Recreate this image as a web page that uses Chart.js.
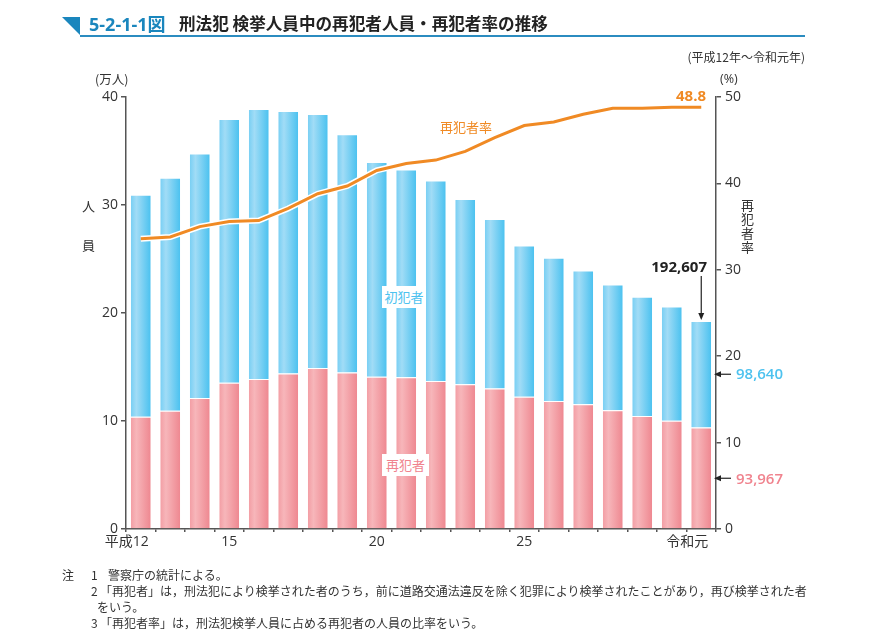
<!DOCTYPE html>
<html lang="ja">
<head>
<meta charset="utf-8">
<script src="https://cdn.jsdelivr.net/npm/chart.js@4/dist/chart.umd.min.js"></script>
<style>
  body { margin: 0; background: #fff; font-family: "Open Sans", "Noto Sans CJK JP", sans-serif; color: #333; }
  #wrap { position: relative; width: 875px; height: 640px; overflow: hidden; }
  #myChart { position: absolute; left: 0; top: 0; }
  .t { position: absolute; white-space: nowrap; line-height: 1; }
  .tri { position: absolute; left: 62px; top: 17px; width: 18px; height: 18px; background: #1a86bd; clip-path: polygon(0 0, 100% 0, 100% 100%); }
  .rule { position: absolute; left: 80px; top: 35px; width: 725px; height: 1.5px; background: #2b8cc0; }
  .box { position: absolute; background: #fff; text-align: center; font-size: 13px; line-height: 22px; font-family: "Noto Sans CJK JP", sans-serif; }
  .note { position: absolute; font-size: 12px; font-family: "Noto Sans CJK JP", sans-serif; color: #333; white-space: nowrap; line-height: 1; }
</style>
</head>
<body>
<div id="wrap">
  <canvas id="myChart" width="875" height="640"></canvas>

  <div class="tri"></div>
  <div class="t" style="left:89px;top:14px;font-size:18px;font-weight:bold;color:#1a86bd;">5-2-1-1<span style="font-family:'Noto Sans CJK JP';">図</span></div>
  <div class="t" style="left:179px;top:15px;font-size:16.6px;font-weight:bold;color:#222;font-family:'Noto Sans CJK JP';">刑法犯 検挙人員中の再犯者人員・再犯者率の推移</div>
  <div class="rule"></div>
  <div class="t" style="right:70px;top:51px;font-size:12px;font-family:'Noto Sans CJK JP';">(平成12年～令和元年)</div>

  <div class="t" style="left:95px;top:73px;font-size:12.5px;font-family:'Noto Sans CJK JP';">(万人)</div>
  <div class="t" style="left:82px;top:199px;font-size:13px;font-family:'Noto Sans CJK JP';">人</div>
  <div class="t" style="left:82px;top:238px;font-size:13px;font-family:'Noto Sans CJK JP';">員</div>
  <div class="t" style="left:720px;top:73px;font-size:12.5px;">(%)</div>
  <div class="t" style="left:741px;top:199px;font-size:13px;font-family:'Noto Sans CJK JP';writing-mode:vertical-rl;letter-spacing:1px;">再犯者率</div>

  <div class="t" style="right:169px;top:88px;font-size:15px;font-weight:bold;color:#f08a24;">48.8</div>
  <div class="t" style="left:440px;top:120px;font-size:13px;color:#f08a24;font-family:'Noto Sans CJK JP';">再犯者率</div>
  <div class="box" style="left:382px;top:286px;width:44px;height:22px;color:#4dc2ef;">初犯者</div>
  <div class="box" style="left:382px;top:454px;width:47px;height:22px;color:#f0838e;">再犯者</div>

  <div class="t" style="right:168px;top:259px;font-size:15px;font-weight:bold;color:#222;">192,607</div>
  <div class="t" style="left:736px;top:366px;font-size:15px;font-weight:600;color:#4dc2ef;">98,640</div>
  <div class="t" style="left:736px;top:471px;font-size:15px;font-weight:600;color:#f0838e;">93,967</div>

  <div class="note" style="left:62px;top:569px;">注</div>
  <div class="note" style="left:91px;top:569px;">1</div>
  <div class="note" style="left:108px;top:569px;">警察庁の統計による。</div>
  <div class="note" style="left:91px;top:585px;">2</div>
  <div class="note" style="left:100px;top:585px;">「再犯者」は，刑法犯により検挙された者のうち，前に道路交通法違反を除く犯罪により検挙されたことがあり，再び検挙された者</div>
  <div class="note" style="left:97px;top:601px;">をいう。</div>
  <div class="note" style="left:91px;top:617px;">3</div>
  <div class="note" style="left:100px;top:617px;">「再犯者率」は，刑法犯検挙人員に占める再犯者の人員の比率をいう。</div>
</div>

<script>
// 平成12年～令和元年
let anos = ['平成12', '13', '14', '15', '16', '17', '18', '19', '20', '21', '22', '23', '24', '25', '26', '27', '28', '29', '30', '令和元']
let xTickLabels = ['平成12', '', '', '15', '', '', '', '', '20', '', '', '', '', '25', '', '', '', '', '', '令和元']

// 万人
let reincidentes = [10.40, 10.95, 12.13, 13.55, 13.90, 14.40, 14.90, 14.50, 14.10, 14.05, 13.70, 13.40, 13.00, 12.25, 11.85, 11.55, 11.00, 10.47, 10.03, 9.3967]
let primarios = [20.56, 21.58, 22.63, 24.41, 25.00, 24.30, 23.53, 22.06, 19.88, 19.24, 18.56, 17.16, 15.70, 14.00, 13.26, 12.39, 11.64, 11.03, 10.58, 9.864]

// %
let taxa = [33.6, 33.8, 35.0, 35.6, 35.7, 37.1, 38.8, 39.7, 41.5, 42.3, 42.7, 43.7, 45.3, 46.7, 47.1, 48.0, 48.7, 48.7, 48.8, 48.8]

let yLeftTicks = [0, 10, 20, 30, 40]
let yRightTicks = [0, 10, 20, 30, 40, 50]

let fonte = '"Open Sans", "Noto Sans CJK JP", sans-serif'

function barGradient(context, cores) {
  let chart = context.chart
  let x = chart.scales.x
  if (!x || !chart.chartArea) return cores[2]
  let w = (x.width / anos.length) * 0.73
  let cx = x.getPixelForValue(context.dataIndex)
  let g = chart.ctx.createLinearGradient(cx - w / 2, 0, cx + w / 2, 0)
  g.addColorStop(0, cores[0])
  g.addColorStop(0.3, cores[1])
  g.addColorStop(1, cores[2])
  return g
}

function arrow(ctx, x1, y1, x2, y2) {
  let ang = Math.atan2(y2 - y1, x2 - x1)
  ctx.beginPath()
  ctx.moveTo(x1, y1)
  ctx.lineTo(x2 - 5 * Math.cos(ang), y2 - 5 * Math.sin(ang))
  ctx.stroke()
  ctx.beginPath()
  ctx.moveTo(x2, y2)
  ctx.lineTo(x2 - 7 * Math.cos(ang) + 3 * Math.sin(ang), y2 - 7 * Math.sin(ang) - 3 * Math.cos(ang))
  ctx.lineTo(x2 - 7 * Math.cos(ang) - 3 * Math.sin(ang), y2 - 7 * Math.sin(ang) + 3 * Math.cos(ang))
  ctx.closePath()
  ctx.fill()
}

// setas das anotações do último ano
let setas = {
  id: 'setas',
  afterDraw(chart) {
    let ctx = chart.ctx
    let x = chart.scales.x
    let y = chart.scales.y
    let n = anos.length - 1
    let cx = x.getPixelForValue(n)
    let total = reincidentes[n] + primarios[n]
    ctx.save()
    ctx.strokeStyle = '#222'
    ctx.fillStyle = '#222'
    ctx.lineWidth = 1.2
    arrow(ctx, cx, 276, cx, y.getPixelForValue(total) - 1)
    arrow(ctx, 731, y.getPixelForValue(reincidentes[n] + primarios[n] / 2), 714, y.getPixelForValue(reincidentes[n] + primarios[n] / 2))
    arrow(ctx, 731, y.getPixelForValue(reincidentes[n] / 2), 714, y.getPixelForValue(reincidentes[n] / 2))
    ctx.restore()
  }
}

var ctx = document.getElementById('myChart').getContext('2d')

var myChart = new Chart(ctx, {
  type: 'bar',
  data: {
    labels: anos,
    datasets: [{
      type: 'line',
      label: '再犯者率',
      data: taxa,
      yAxisID: 'y2',
      borderColor: '#f08a24',
      borderWidth: 3,
      pointRadius: 0,
      tension: 0,
      order: 0
    }, {
      // contorno branco da linha
      type: 'line',
      label: '',
      data: taxa,
      yAxisID: 'y2',
      borderColor: '#ffffff',
      borderWidth: 6,
      pointRadius: 0,
      tension: 0,
      order: 1
    }, {
      label: '再犯者',
      data: reincidentes,
      yAxisID: 'y',
      stack: 'p',
      backgroundColor: (c) => barGradient(c, ['#f29aa1', '#f7b6ba', '#ee858e']),
      borderColor: '#ffffff',
      borderWidth: 1,
      barPercentage: 0.73,
      categoryPercentage: 1,
      order: 2
    }, {
      label: '初犯者',
      data: primarios,
      yAxisID: 'y',
      stack: 'p',
      backgroundColor: (c) => barGradient(c, ['#72cdf3', '#a1dcf6', '#46c0ef']),
      borderColor: '#ffffff',
      borderWidth: 1,
      barPercentage: 0.73,
      categoryPercentage: 1,
      order: 2
    }]
  },
  options: {
    responsive: false,
    animation: false,
    layout: { padding: { top: 97, left: 0, right: 0, bottom: 0 } },
    plugins: {
      legend: { display: false },
      tooltip: { enabled: false }
    },
    scales: {
      x: {
        stacked: true,
        offset: true,
        grid: { display: true, offset: true, drawOnChartArea: false, drawTicks: true, tickLength: 3, color: '#555', lineWidth: 1.5 },
        border: { color: '#555', width: 1.5 },
        ticks: {
          autoSkip: false,
          maxRotation: 0,
          padding: 3,
          color: '#333',
          font: { family: fonte, size: 14, lineHeight: 1 },
          // os rótulos das pontas ficam um pouco à esquerda
          callback: (v, i) => (i === 0 || i === anos.length - 1) ? xTickLabels[i] + '\u3000\u3000' : xTickLabels[i]
        },
        afterFit: (s) => { s.height = 111 }
      },
      y: {
        position: 'left',
        stacked: true,
        min: 0,
        max: 40,
        afterBuildTicks: (s) => { s.ticks = yLeftTicks.map(v => ({ value: v })) },
        grid: { drawOnChartArea: false, drawTicks: true, tickLength: 5, color: '#555', lineWidth: 1.5 },
        border: { color: '#555', width: 1.5 },
        ticks: { padding: 3, color: '#333', font: { family: fonte, size: 14 } },
        afterFit: (s) => { s.width = 126 }
      },
      y2: {
        position: 'right',
        min: 0,
        max: 50,
        afterBuildTicks: (s) => { s.ticks = yRightTicks.map(v => ({ value: v })) },
        grid: { drawOnChartArea: false, drawTicks: true, tickLength: 5, color: '#555', lineWidth: 1.5 },
        border: { color: '#555', width: 1.5 },
        ticks: { padding: 4, color: '#333', font: { family: fonte, size: 14 } },
        afterFit: (s) => { s.width = 159 }
      }
    }
  },
  plugins: [setas]
})
</script>
</body>
</html>
